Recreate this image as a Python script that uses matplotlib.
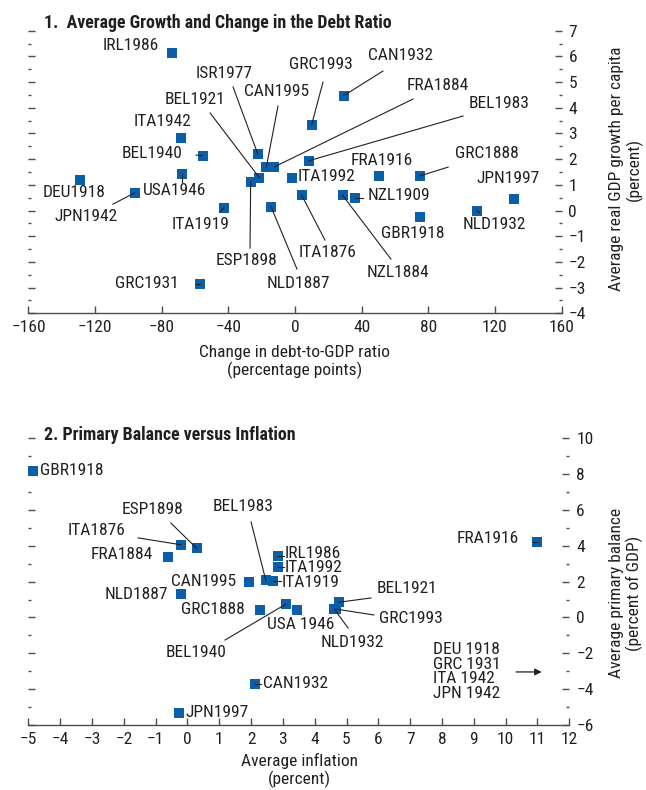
import matplotlib
matplotlib.use('Agg')
import matplotlib.pyplot as plt
from matplotlib.ticker import MultipleLocator

plt.rcParams['font.family'] = ['Roboto Condensed', 'DejaVu Sans']
plt.rcParams['axes.unicode_minus'] = True

INK = '#231f20'
BLUE = '#0b5ea8'
FS = 12.5

# ---- panel 1: growth vs change in debt ratio ----
p1_names = ['IRL1986', 'ISR1977', 'CAN1995', 'FRA1884', 'BEL1921', 'ESP1898',
            'ITA1942', 'BEL1940', 'USA1946', 'DEU1918', 'JPN1942', 'ITA1919',
            'GRC1931', 'NLD1887', 'ITA1992', 'ITA1876', 'BEL1983', 'GRC1993',
            'CAN1932', 'FRA1916', 'GRC1888', 'JPN1997', 'NLD1932', 'GBR1918',
            'NZL1909', 'NZL1884']
p1_debt = [-74, -22.4, -17.2, -12.4, -21.4, -26.6,
           -68.4, -55.4, -68, -129, -96.2, -42.6,
           -57.2, -14.4, -1.8, 4.0, 8.4, 10.0,
           29.2, 50.4, 75, 131.3, 109, 75,
           36, 28.6]
p1_growth = [6.15, 2.21, 1.70, 1.70, 1.28, 1.12,
             2.83, 2.13, 1.43, 1.17, 0.69, 0.11,
             -2.85, 0.15, 1.28, 0.60, 1.94, 3.34,
             4.47, 1.35, 1.35, 0.46, 0.0, -0.24,
             0.49, 0.59]

# ---- panel 2: primary balance vs inflation ----
p2_names = ['GBR1918', 'ESP1898', 'ITA1876', 'FRA1884', 'IRL1986', 'ITA1992',
            'BEL1983', 'ITA1919', 'CAN1995', 'NLD1887', 'GRC1888', 'BEL1940',
            'USA 1946', 'BEL1921', 'GRC1993', 'NLD1932', 'FRA1916', 'CAN1932',
            'JPN1997']
p2_infl = [-4.84, 0.29, -0.21, -0.62, 2.84, 2.84,
           2.46, 2.69, 1.93, -0.21, 2.28, 3.09,
           3.43, 4.76, 4.66, 4.62, 10.98, 2.12,
           -0.26]
p2_balance = [8.15, 3.86, 4.06, 3.36, 3.45, 2.84,
              2.09, 2.02, 2.00, 1.29, 0.44, 0.74,
              0.44, 0.85, 0.47, 0.45, 4.23, -3.73,
              -5.35]
p2_offchart = ['DEU 1918', 'GRC 1931', 'ITA 1942', 'JPN 1942']

# label placement: name -> (x, y, ha, leader start or None)
p1_labels = {
    'IRL1986': (-98.5, 6.44, 'center', None),
    'ISR1977': (-42.6, 5.35, 'center', (-37.2, 4.81)),
    'CAN1995': (-10.8, 4.65, 'center', (-10.2, 4.07)),
    'BEL1921': (-60.0, 4.34, 'center', (-51.0, 3.80)),
    'GRC1993': (15.6, 5.70, 'center', (16.8, 5.00)),
    'CAN1932': (63.6, 6.05, 'center', (52.8, 5.43)),
    'FRA1884': (85.6, 4.85, 'center', (70.8, 4.34)),
    'BEL1983': (122.5, 4.18, 'center', (100.9, 3.68)),
    'ITA1942': (-79.3, 3.48, 'center', None),
    'BEL1940': (-85.9, 2.24, 'center', (-59.4, 2.16)),
    'DEU1918': (-132.4, 0.72, 'center', None),
    'USA1946': (-72.6, 0.80, 'center', (-68, 1.13)),
    'JPN1942': (-125.5, -0.24, 'center', (-109.3, 0.25)),
    'ITA1919': (-56.7, -0.53, 'center', (-45.0, -0.05)),
    'ESP1898': (-29.4, -1.93, 'center', (-27.0, -1.46)),
    'GRC1931': (-89.2, -2.82, 'center', (-59.4, -2.85)),
    'NLD1887': (1.8, -2.82, 'center', (1.2, -2.28)),
    'ITA1992': (19.2, 1.34, 'center', None),
    'ITA1876': (19.8, -1.65, 'center', (18.0, -1.15)),
    'NZL1909': (62.7, 0.60, 'center', (40.8, 0.49)),
    'NZL1884': (61.8, -2.43, 'center', (57.6, -1.89)),
    'GBR1918': (70.5, -0.88, 'center', None),
    'FRA1916': (52.2, 1.93, 'center', None),
    'GRC1888': (115.0, 2.24, 'center', (91.9, 1.69)),
    'JPN1997': (127.9, 1.23, 'center', None),
    'NLD1932': (119.5, -0.53, 'center', (111.0, -0.09)),
}
p2_labels = {
    'GBR1918': (-4.63, 8.18, 'left', None),
    'ESP1898': (-1.11, 6.05, 'center', (-0.52, 5.27)),
    'ITA1876': (-2.86, 4.83, 'center', (-1.55, 4.44)),
    'FRA1884': (-2.06, 3.49, 'center', None),
    'BEL1983': (1.75, 6.17, 'center', (2.00, 5.33)),
    'IRL1986': (3.07, 3.56, 'left', (3.05, 3.45)),
    'ITA1992': (3.07, 2.80, 'left', (3.05, 2.84)),
    'ITA1919': (2.96, 1.93, 'left', (2.94, 2.02)),
    'CAN1995': (0.51, 1.98, 'center', None),
    'NLD1887': (-1.60, 1.31, 'center', None),
    'GRC1888': (0.80, 0.47, 'center', None),
    'BEL1940': (0.27, -1.98, 'center', (1.18, -1.26)),
    'USA 1946': (3.55, -0.42, 'center', None),
    'NLD1932': (5.19, -1.42, 'center', (5.05, -0.59)),
    'GRC1993': (7.01, -0.08, 'center', (5.86, 0.14)),
    'BEL1921': (6.90, 1.59, 'center', (5.77, 1.09)),
    'FRA1916': (9.43, 4.38, 'center', (10.85, 4.23)),
    'CAN1932': (2.39, -3.66, 'left', (2.30, -3.73)),
    'JPN1997': (-0.05, -5.33, 'left', None),
}


def style_axes(ax):
    for side in ('left', 'right', 'top'):
        ax.spines[side].set_visible(False)
    ax.spines['bottom'].set_color('#4d4d4f')
    ax.spines['bottom'].set_linewidth(1.0)
    ax.tick_params(axis='y', which='both', left=True, right=True,
                   labelleft=False, labelright=True, direction='in',
                   colors='#4d4d4f', labelcolor=INK, labelsize=FS, pad=5)
    ax.tick_params(axis='y', which='major', length=5, width=1.0)
    ax.tick_params(axis='y', which='minor', length=2.5, width=1.0)
    ax.tick_params(axis='x', which='major', direction='in', length=5, width=1.0,
                   colors='#4d4d4f', labelcolor=INK, labelsize=FS, pad=5)


def draw_panel(ax, xs, ys, names, labels):
    ax.plot(xs, ys, 's', color=BLUE, markersize=7.3, markeredgewidth=0,
            zorder=2, clip_on=False)
    pts = dict(zip(names, zip(xs, ys)))
    for name, (tx, ty, ha, lead) in labels.items():
        ax.text(tx, ty, name, ha=ha, va='center', fontsize=FS, color=INK, zorder=4)
        if lead is not None:
            px, py = pts[name]
            ax.plot([lead[0], px], [lead[1], py], color=INK, lw=0.8, zorder=3)


fig = plt.figure(figsize=(6.46, 7.90), dpi=100)
fig.patch.set_facecolor('white')

# panel 1
ax1 = fig.add_axes([0.0441, 0.6034, 0.8251, 0.3577])
draw_panel(ax1, p1_debt, p1_growth, p1_names, p1_labels)
ax1.set_xlim(-160, 160)
ax1.set_ylim(-4, 7)
ax1.xaxis.set_major_locator(MultipleLocator(40))
ax1.yaxis.set_major_locator(MultipleLocator(1))
ax1.yaxis.set_minor_locator(MultipleLocator(0.5))
style_axes(ax1)
fig.text(0.456, 0.5418, 'Change in debt-to-GDP ratio\n(percentage points)',
         fontsize=FS, color=INK, ha='center', va='center', linespacing=1.15)
fig.text(0.068, 0.971, '1.  Average Growth and Change in the Debt Ratio',
         fontsize=12.9, fontweight='bold', color=INK, ha='left', va='center')
fig.text(0.969, 0.786, 'Average real GDP growth per capita\n(percent)',
         rotation=90, fontsize=FS, color=INK, ha='center', va='center',
         multialignment='center', linespacing=1.15)

# panel 2
ax2 = fig.add_axes([0.0438, 0.0823, 0.8375, 0.3629])
draw_panel(ax2, p2_infl, p2_balance, p2_names, p2_labels)
ax2.set_xlim(-5, 12)
ax2.set_ylim(-6, 10)
ax2.xaxis.set_major_locator(MultipleLocator(1))
ax2.yaxis.set_major_locator(MultipleLocator(2))
ax2.yaxis.set_minor_locator(MultipleLocator(1))
style_axes(ax2)
fig.text(0.463, 0.0247, 'Average inflation\n(percent)',
         fontsize=FS, color=INK, ha='center', va='center', linespacing=1.15)
ax2.text(7.73, -3.01, '\n'.join(p2_offchart), ha='left', va='center',
         fontsize=FS, color=INK, linespacing=0.95)
ax2.annotate('', xy=(11.22, -3.04), xytext=(10.24, -3.04),
             arrowprops=dict(arrowstyle='-|>', color=INK, lw=0.9,
                             mutation_scale=10))
fig.text(0.068, 0.4494, '2. Primary Balance versus Inflation',
         fontsize=12.9, fontweight='bold', color=INK, ha='left', va='center')
fig.text(0.969, 0.249, 'Average primary balance\n(percent of GDP)',
         rotation=90, fontsize=FS, color=INK, ha='center', va='center',
         multialignment='center', linespacing=1.15)

fig.savefig('out.png', dpi=100, facecolor='white')
